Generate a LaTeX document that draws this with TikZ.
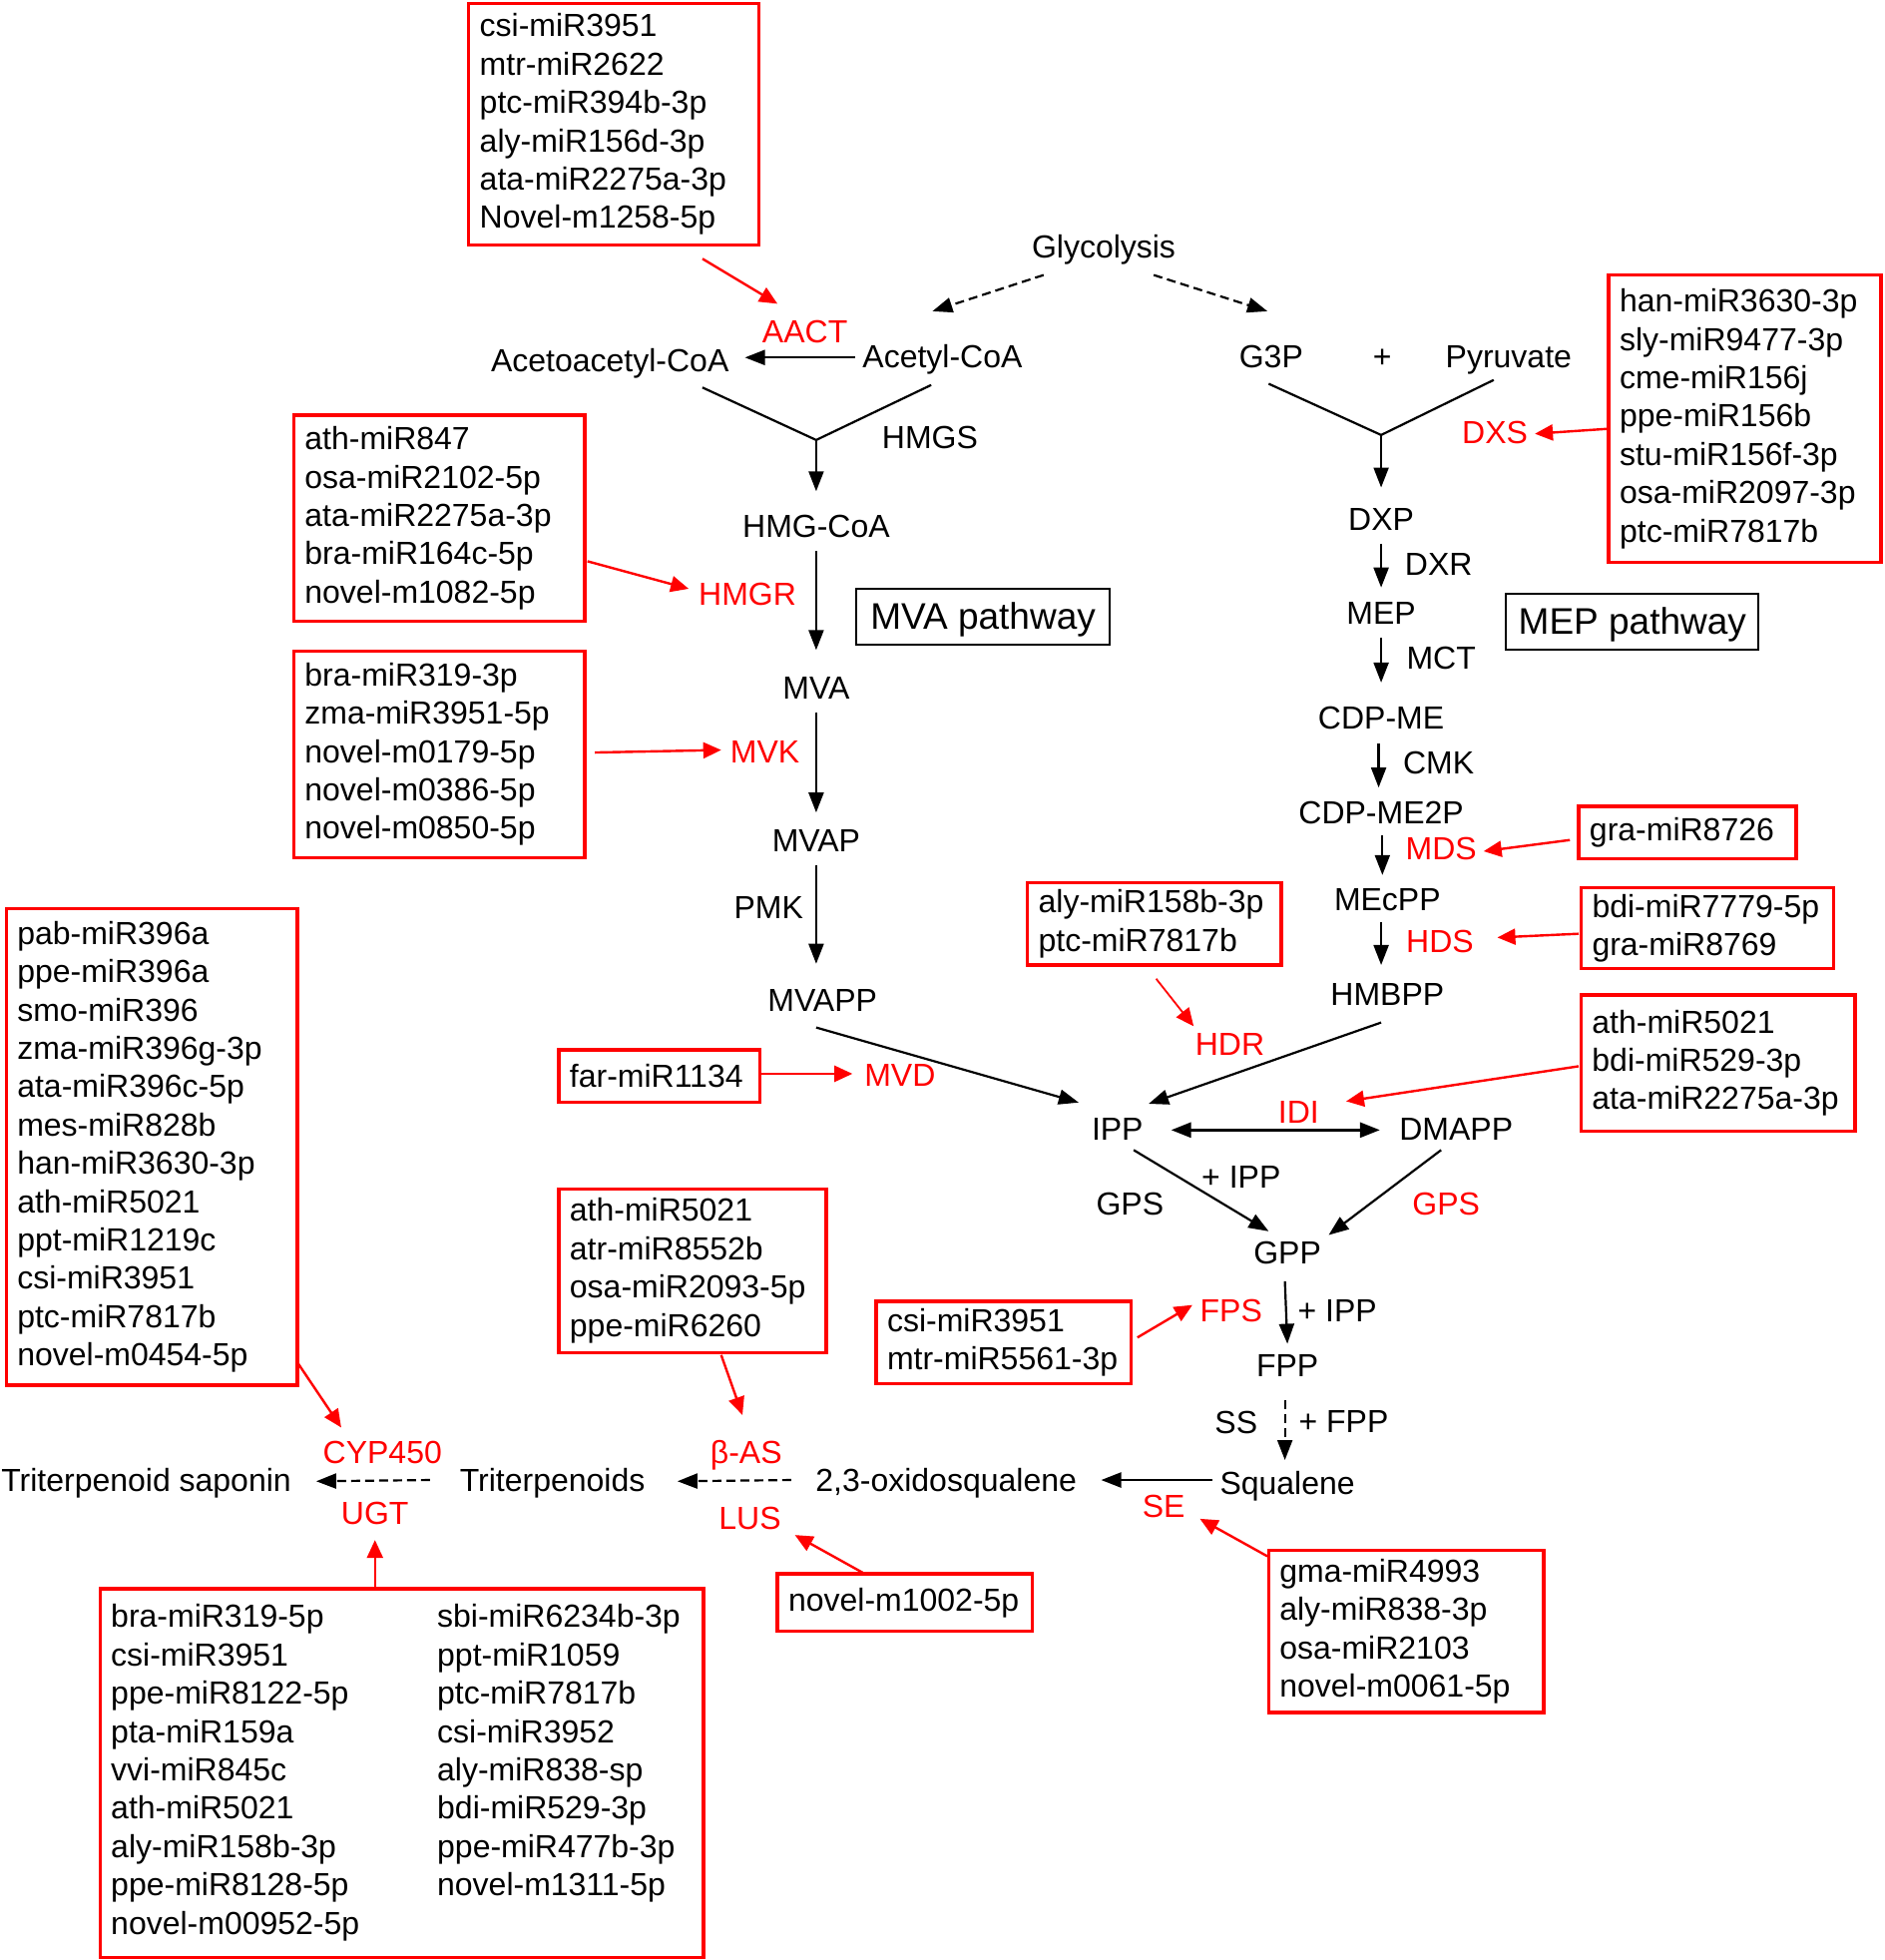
\documentclass[tikz,border=0pt]{standalone}
\usepackage{fontspec}
\setmainfont{Liberation Sans}
\usetikzlibrary{arrows.meta,calc}
\begin{document}
\begin{tikzpicture}[x=0.62635pt,y=-0.62635pt,
  met/.style={inner sep=0pt, text height=11.5pt, text depth=0pt, font=\fontsize{16}{19.2}\selectfont},
  enz/.style={met, text=red},
  mirbox/.style n args={3}{draw=red, line width=1.7pt, inner xsep=5pt, inner ysep=0pt,
     minimum width=#1pt, minimum height=#2pt, text width=#3pt, align=left,
     font=\fontsize{16}{19.2}\selectfont},
  pathbox/.style={draw=black, line width=0.9pt, inner sep=0pt, minimum height=28.2pt,
     text height=13.3pt, text depth=1pt, font=\fontsize{18.5}{22}\selectfont},
  tip/.tip={Triangle[length=10pt,width=7.5pt]},
  arr/.style={-tip, line width=1.1pt},
  rarr/.style={draw=red, line width=1.2pt, -{Triangle[length=9pt,width=8pt]}},
  dsh/.style={dash pattern=on 4.5pt off 2.5pt},
  ln/.style={line width=1.1pt}
]
\useasboundingbox (0,0) rectangle (1508,1568);

% ---------- metabolites and enzymes ----------
\node[met] (glyc) at (883,197) {Glycolysis};
\node[met] (acac) at (488,288) {Acetoacetyl-CoA};
\node[met] (acet) at (754,285) {Acetyl-CoA};
\node[enz] (aact) at (644,265) {AACT};
\node[met] (g3p) at (1017,285) {G3P};
\node[met] (plus) at (1106,285) {+};
\node[met] (pyr) at (1207,285) {Pyruvate};
\node[met] (hmgs) at (744,350) {HMGS};
\node[met] (hmgcoa) at (653,421) {HMG-CoA};
\node[enz] (hmgr) at (598,475) {HMGR};
\node[pathbox, minimum width=127.1pt] (mvabox) at (786.5,493.5) {MVA pathway};
\node[met] (mva) at (653,550) {MVA};
\node[enz] (mvk) at (612,601) {MVK};
\node[met] (mvap) at (653,672) {MVAP};
\node[met] (pmk) at (615,726) {PMK};
\node[met] (mvapp) at (658,800) {MVAPP};
\node[enz] (mvd) at (720,860) {MVD};
\node[met] (ipp) at (894,903) {IPP};
\node[enz] (hdr) at (984,835) {HDR};
\node[enz] (idi) at (1039,889) {IDI};
\node[met] (dmapp) at (1165,903) {DMAPP};
\node[met] (pipp1) at (993,941) {+ IPP};
\node[met] (gps1) at (904,963) {GPS};
\node[enz] (gps2) at (1157,963) {GPS};
\node[met] (gpp) at (1030,1002) {GPP};
\node[met] (pipp2) at (1070,1048) {+ IPP};
\node[enz] (fps) at (985,1048) {FPS};
\node[met] (fpp) at (1030,1092) {FPP};
\node[met] (ss) at (989,1138) {SS};
\node[met] (pfpp) at (1075,1137) {+ FPP};
\node[met] (squal) at (1030,1186) {Squalene};
\node[enz] (se) at (931,1205) {SE};
\node[met] (oxido) at (757,1184) {2,3-oxidosqualene};
\node[enz] (bas) at (597,1162) {β-AS};
\node[enz] (lus) at (600,1214) {LUS};
\node[met] (triterp) at (442,1184) {Triterpenoids};
\node[enz] (cyp) at (306,1162) {CYP450};
\node[enz] (ugt) at (300,1210) {UGT};
\node[met] (saponin) at (117,1184) {Triterpenoid saponin};

\node[enz] (dxs) at (1196,346) {DXS};
\node[met] (dxp) at (1105,415) {DXP};
\node[met] (dxr) at (1151,451) {DXR};
\node[met] (mep) at (1105,490) {MEP};
\node[met] (mct) at (1153,526) {MCT};
\node[pathbox, minimum width=126.5pt] (mepbox) at (1306,497.5) {MEP pathway};
\node[met] (cdpme) at (1105,574) {CDP-ME};
\node[met] (cmk) at (1151,610) {CMK};
\node[met] (cdpme2p) at (1105,650) {CDP-ME2P};
\node[enz] (mds) at (1153,679) {MDS};
\node[met] (mecpp) at (1110,719) {MEcPP};
\node[enz] (hds) at (1152,753) {HDS};
\node[met] (hmbpp) at (1110,795) {HMBPP};

% ---------- miRNA boxes ----------
\node[mirbox={145.3}{120.9}{134.3}] (b1) at (491,99.5)
  {csi-miR3951\\mtr-miR2622\\ptc-miR394b-3p\\aly-miR156d-3p\\ata-miR2275a-3p\\Novel-m1258-5p};
\node[mirbox={145.9}{103.3}{134.9}] (b2) at (351.5,414.5)
  {ath-miR847\\osa-miR2102-5p\\ata-miR2275a-3p\\bra-miR164c-5p\\novel-m1082-5p};
\node[mirbox={145.9}{103.3}{134.9}] (b3) at (351.5,603.5)
  {bra-miR319-3p\\zma-miR3951-5p\\novel-m0179-5p\\novel-m0386-5p\\novel-m0850-5p};
\node[mirbox={136.5}{144.1}{125.5}] (bdxs) at (1396,335)
  {han-miR3630-3p\\sly-miR9477-3p\\cme-miR156j\\ppe-miR156b\\stu-miR156f-3p\\osa-miR2097-3p\\ptc-miR7817b};
\node[mirbox={109}{26.3}{98}] (bgra) at (1350,666) {gra-miR8726};
\node[mirbox={126.5}{40.7}{115.5}] (bbdi) at (1366,742.5) {bdi-miR7779-5p\\gra-miR8769};
\node[mirbox={127.1}{41.3}{116.1}] (baly) at (923.5,739) {aly-miR158b-3p\\ptc-miR7817b};
\node[mirbox={137.2}{68.3}{126.2}] (bidi) at (1374.5,850.5)
  {ath-miR5021\\bdi-miR529-3p\\ata-miR2275a-3p};
\node[mirbox={100.8}{26.3}{89.8}] (bfar) at (527.5,861) {far-miR1134};
\node[mirbox={145.9}{238.6}{134.9}] (bleft) at (121.5,917.5)
  {pab-miR396a\\ppe-miR396a\\smo-miR396\\zma-miR396g-3p\\ata-miR396c-5p\\mes-miR828b\\han-miR3630-3p\\ath-miR5021\\ppt-miR1219c\\csi-miR3951\\ptc-miR7817b\\novel-m0454-5p};
\node[mirbox={134}{82}{123}] (bbas) at (554,1016.5)
  {ath-miR5021\\atr-miR8552b\\osa-miR2093-5p\\ppe-miR6260};
\node[mirbox={127.8}{41.3}{116.8}] (bfps) at (803,1074) {csi-miR3951\\mtr-miR5561-3p};
\node[mirbox={137.8}{81.4}{126.8}] (bse) at (1125,1305)
  {gma-miR4993\\aly-miR838-3p\\osa-miR2103\\novel-m0061-5p};
\node[mirbox={127.8}{28.8}{116.8}] (bn) at (724,1282) {novel-m1002-5p};
\node[mirbox={302.5}{184.8}{291.5}] (bbig) at (321.5,1418.5)
  {\begin{tabular}{@{}p{163.5pt}@{}l@{}}
   bra-miR319-5p & sbi-miR6234b-3p\\
   csi-miR3951 & ppt-miR1059\\
   ppe-miR8122-5p & ptc-miR7817b\\
   pta-miR159a & csi-miR3952\\
   vvi-miR845c & aly-miR838-sp\\
   ath-miR5021 & bdi-miR529-3p\\
   aly-miR158b-3p & ppe-miR477b-3p\\
   ppe-miR8128-5p & novel-m1311-5p\\
   novel-m00952-5p & \\
   \end{tabular}};

% ---------- junctions ----------
\coordinate (j1) at (653,352);
\coordinate (j2) at (1105,348);

% ---------- black connectors ----------
\draw[arr,dsh] ($(glyc)+(-48,23)$) -- ($(acet)+(-8,-36)$);
\draw[arr,dsh] ($(glyc)+(40,23)$) -- ($(g3p)+(-3,-36)$);
\draw[arr] ($(acet)+(-70,1)$) -- ($(acac)+(108,-2)$);
\draw[ln] ($(acac)+(74,22)$) -- (j1) -- ($(acet)+(-9,23)$);
\draw[arr] (j1) -- ($(hmgcoa)+(0,-28)$);
\draw[arr] ($(hmgcoa)+(0,20)$) -- ($(mva)+(0,-30)$);
\draw[arr] ($(mva)+(0,20)$) -- ($(mvap)+(0,-22)$);
\draw[arr] ($(mvap)+(0,20)$) -- ($(mvapp)+(-5,-29)$);
\draw[arr] ($(mvapp)+(-5,22)$) -- ($(ipp)+(-31,-21)$);
\draw[arr] ($(hmbpp)+(-5,23)$) -- ($(ipp)+(25,-20)$);
\draw[tip-tip, line width=1.4pt]
  ($(ipp)+(43,1)$) -- ($(dmapp)+(-61,1)$);
\draw[arr] ($(ipp)+(13,17)$) -- ($(gpp)+(-15,-17)$);
\draw[arr] ($(dmapp)+(-12,17)$) -- ($(gpp)+(33,-14)$);
\draw[arr] ($(gpp)+(-2,23)$) -- ($(fpp)+(0,-17)$);
\draw[arr,dsh] ($(fpp)+(-2,28)$) -- ($(squal)+(-2,-18)$);
\draw[arr] ($(squal)+(-60,-2)$) -- ($(oxido)+(124,0)$);
\draw[arr,dsh] ($(oxido)+(-124,0)$) -- ($(triterp)+(100,1)$);
\draw[arr,dsh] ($(triterp)+(-98,0)$) -- ($(saponin)+(136,1)$);

\draw[ln] ($(g3p)+(-2,22)$) -- (j2) -- ($(pyr)+(-12,19)$);
\draw[arr] (j2) -- ($(dxp)+(0,-25)$);
\draw[arr] ($(dxp)+(0,20)$) -- ($(mep)+(0,-20)$);
\draw[arr] ($(mep)+(0,20)$) -- ($(cdpme)+(0,-28)$);
\draw[arr] ($(cdpme)+(-2,21)$) -- ($(cdpme2p)+(-2,-20)$);
\draw[arr] ($(cdpme2p)+(1,18)$) -- ($(mecpp)+(-4,-19)$);
\draw[arr] ($(mecpp)+(-5,19)$) -- ($(hmbpp)+(-5,-23)$);

% ---------- red connectors ----------
\draw[rarr] ($(b1)+(71,107.5)$) -- ($(aact)+(-22,-22)$);
\draw[rarr] ($(b2)+(118.5,34.5)$) -- ($(hmgr)+(-47,-4)$);
\draw[rarr] ($(b3)+(124.5,-1.5)$) -- ($(mvk)+(-35,-1)$);
\draw[rarr] ($(bfar)+(81.5,-2)$) -- ($(mvd)+(-38,-1)$);
\draw[rarr, line width=0.9pt] ($(baly)+(1.5,44)$) -- ($(hdr)+(-29,-14)$);
\draw[rarr] ($(bidi)+(-111.5,2.5)$) -- ($(idi)+(38,-8)$);
\draw[rarr] ($(bfps)+(107,-4)$) -- ($(fps)+(-31,-4)$);
\draw[rarr] ($(bse)+(-111,-60)$) -- ($(se)+(29,10)$);
\draw[rarr] ($(bbas)+(23,67.5)$) -- ($(bas)+(-3,-30)$);
\draw[rarr] ($(bn)+(-34,-24)$) -- ($(lus)+(36,14)$);
\draw[rarr] ($(bleft)+(116.5,172.5)$) -- ($(cyp)+(-33,-20)$);
\draw[rarr] ($(bbig)+(-21.5,-147.5)$) -- ($(ugt)+(0,22)$);
\draw[rarr] ($(bdxs)+(-109,8)$) -- ($(dxs)+(32,1)$);
\draw[rarr] ($(bgra)+(-94,6)$) -- ($(mds)+(34,2)$);
\draw[rarr] ($(bbdi)+(-103,4.5)$) -- ($(hds)+(46,-3)$);
\end{tikzpicture}
\end{document}
